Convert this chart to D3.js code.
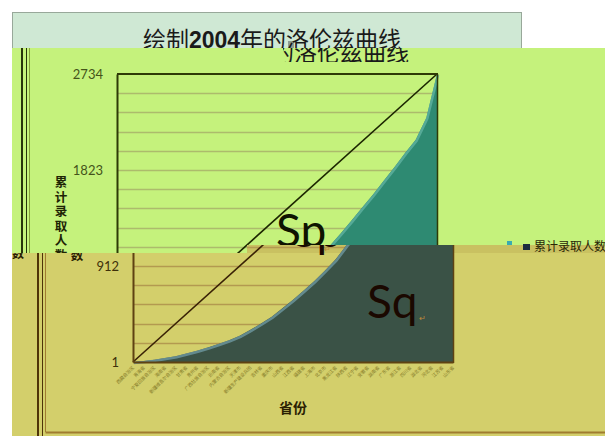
<!DOCTYPE html>
<html>
<head>
<meta charset="utf-8">
<script src="https://cdn.jsdelivr.net/npm/d3@7"></script>
<style>
  body { margin: 0; background: #fff; }
  svg { display: block; }
</style>
</head>
<body>
<svg width="605" height="436"></svg>
<script>
// data section

// provinces, sorted by admissions (labels are too small to read in the picture)
const provinces = ["西藏自治区", "青海省", "宁夏回族自治区", "海南省", "新疆维吾尔自治区", "甘肃省", "贵州省",
  "广西壮族自治区", "云南省", "内蒙古自治区", "天津市", "新疆生产建设兵团", "吉林省", "重庆市", "山西省",
  "江西省", "福建省", "上海市", "北京市", "黑龙江省", "陕西省", "辽宁省", "安徽省", "湖南省", "广东省",
  "浙江省", "四川省", "湖北省", "河北省", "江苏省", "山东省"];
// cumulative admitted students
const cumulative = [1, 10, 22, 38, 56, 82, 108, 138, 172, 207, 250, 306, 366, 430, 510, 592,
  680, 770, 870, 975, 1110, 1225, 1345, 1470, 1590, 1720, 1850, 1985, 2110, 2320, 2734];
// line of absolute equality: first and last point
const equality = [1, 2734];
const yTickValues = [1, 912, 1823, 2734];
const yAxisTitle = "累计录取人数";
const xAxisTitle = "省份";
const legendLabel = "累计录取人数";

const svg = d3.select("svg");

// scales, in the coordinates of the upper (green) strip
const x = d3.scalePoint().domain(provinces).range([117, 437]);
const y = d3.scaleLinear().domain([1, 2734]).range([362, 74]);

// five minor gridlines per labelled interval
const gridValues = d3.range(0, 16).map(i => 1 + i * (2734 - 1) / 15);

const palGreen = {
  bg: "#c5f27c", grid: "#adbb6c", axis: "#2e3a06", area: "#2e8a72", edge: "#5fb2a0",
  diag: "#1c2600", tick: "#44541a", label: "#1e2404", xtick: "#7c8a2c",
  frame: "#28340a", frameLight: "#86a23a", text: "#0e1400"
};
const palOlive = {
  bg: "#d3cf6b", grid: "#b39a50", axis: "#5e4212", area: "#3a5246", edge: "#6e98a0",
  diag: "#3a2206", tick: "#3e300a", label: "#2a1e02", xtick: "#857a28",
  frame: "#4e3408", frameLight: "#a07c30", text: "#1a0800"
};

function drawChart(g, pal) {
  // frame lines on the left
  g.append("line").attr("x1", 22).attr("x2", 22).attr("y1", 0).attr("y2", 436)
    .attr("stroke", pal.frame).attr("stroke-width", 2);
  g.append("line").attr("x1", 26.5).attr("x2", 26.5).attr("y1", 0).attr("y2", 436)
    .attr("stroke", pal.frame).attr("stroke-width", 1);
  g.append("line").attr("x1", 29.5).attr("x2", 29.5).attr("y1", 0).attr("y2", 432)
    .attr("stroke", pal.frameLight).attr("stroke-width", 1);
  g.append("line").attr("x1", 29.5).attr("x2", 620).attr("y1", 432.5).attr("y2", 432.5)
    .attr("stroke", pal.frameLight).attr("stroke-width", 2);

  // gridlines
  g.selectAll(".grid")
    .data(gridValues.slice(1, -1))
    .enter().append("line")
    .attr("class", "grid")
    .attr("x1", x.range()[0]).attr("x2", x.range()[1])
    .attr("y1", d => Math.round(y(d)) + 0.5).attr("y2", d => Math.round(y(d)) + 0.5)
    .attr("stroke", pal.grid).attr("stroke-width", 1.3);

  // the lorenz area
  const area = d3.area()
    .x((d, i) => x(provinces[i]))
    .y0(y(1))
    .y1(d => y(d));
  g.append("path").datum(cumulative)
    .attr("d", area)
    .attr("fill", pal.area);

  const line = d3.line()
    .x((d, i) => x(provinces[i]))
    .y(d => y(d));
  g.append("path").datum(cumulative)
    .attr("d", line)
    .attr("fill", "none")
    .attr("stroke", pal.edge)
    .attr("stroke-width", 2.5)
    .attr("transform", "translate(1,1)")
    .attr("opacity", 0.8);

  // equality line
  g.append("line")
    .attr("x1", x(provinces[0])).attr("y1", y(equality[0]))
    .attr("x2", x(provinces[provinces.length - 1])).attr("y2", y(equality[1]))
    .attr("stroke", pal.diag).attr("stroke-width", 1.6);

  // plot border: top and right
  g.append("line").attr("x1", 117).attr("x2", 438).attr("y1", 74).attr("y2", 74)
    .attr("stroke", pal.axis).attr("stroke-width", 2);
  g.append("line").attr("x1", 437.5).attr("x2", 437.5).attr("y1", 74).attr("y2", 363)
    .attr("stroke", pal.axis).attr("stroke-width", 1.5);

  // y axis
  const yAxis = d3.axisLeft(y).tickValues(yTickValues).tickFormat(d3.format("d"))
    .tickSize(0).tickPadding(14);
  const ya = g.append("g").attr("transform", "translate(117,0)").call(yAxis);
  ya.select(".domain").attr("stroke", pal.axis).attr("stroke-width", 2);
  ya.selectAll("text")
    .attr("fill", pal.tick)
    .style("font-family", "Lato, 'Liberation Sans', sans-serif")
    .style("font-size", "13px");

  // x axis
  const xAxis = d3.axisBottom(x).tickSize(0);
  const xa = g.append("g").attr("transform", "translate(0,362)").call(xAxis);
  xa.select(".domain").attr("stroke", pal.axis).attr("stroke-width", 2);
  xa.selectAll("text")
    .attr("x", 0).attr("y", 0).attr("dy", 0)
    .attr("transform", "translate(1,6) rotate(-45)")
    .attr("text-anchor", "end")
    .attr("fill", pal.xtick)
    .style("font-family", "'Noto Sans CJK SC', sans-serif")
    .style("font-size", "4.6px");

  // y axis title, one character per line
  const yt = g.append("text")
    .attr("fill", pal.label)
    .style("font-family", "'Noto Sans CJK SC', sans-serif")
    .style("font-weight", "bold")
    .style("font-size", "12.5px")
    .attr("text-anchor", "middle");
  yAxisTitle.split("").forEach((ch, i) => {
    yt.append("tspan").attr("x", 61).attr("y", 187 + i * 14.6).text(ch);
  });

  // x axis title
  g.append("text")
    .attr("x", 277).attr("y", 413)
    .attr("text-anchor", "middle")
    .attr("fill", pal.label)
    .style("font-family", "'Noto Sans CJK SC', sans-serif")
    .style("font-weight", "bold")
    .style("font-size", "14px")
    .text(xAxisTitle);

  // Sp and Sq labels
  const sFont = "Lato, 'Open Sans', sans-serif";
  g.append("text").attr("x", 276).attr("y", 247)
    .attr("fill", pal.text)
    .style("font-family", sFont).style("font-size", "46px")
    .text("Sp");
  g.append("text").attr("x", 351).attr("y", 318)
    .attr("fill", pal.text)
    .style("font-family", sFont).style("font-size", "46px")
    .text("Sq");
  g.append("text").attr("x", 403).attr("y", 321)
    .attr("fill", "#c08a3a")
    .style("font-size", "8px").text("↵");
}

// clip regions for the three strips of the picture
const defs = svg.append("defs");
defs.append("clipPath").attr("id", "clipA")
  .append("rect").attr("x", 12).attr("y", 12).attr("width", 510).attr("height", 36);
defs.append("clipPath").attr("id", "clipB")
  .append("polygon").attr("points", "12,48 605,48 605,245 247,245 247,253 12,253");
defs.append("clipPath").attr("id", "clipC")
  .append("polygon").attr("points", "12,253 247,253 247,245 605,245 605,436 12,436");
defs.append("clipPath").attr("id", "clipT")
  .append("rect").attr("x", 283).attr("y", 48).attr("width", 135).attr("height", 14);

// title strip
const titleG = svg.append("g").attr("clip-path", "url(#clipA)");
titleG.append("rect").attr("x", 12.5).attr("y", 12.5).attr("width", 509).attr("height", 40)
  .attr("fill", "#cfe8d4").attr("stroke", "#98a89a");
titleG.append("rect").attr("x", 288).attr("y", 41).attr("width", 6).attr("height", 7).attr("fill", "#8e9c92");

function addTitle(g, cx, baseline) {
  const t = g.append("text")
    .attr("x", cx).attr("y", baseline)
    .attr("text-anchor", "middle")
    .attr("fill", "#1a1a1a")
    .style("font-family", "'Noto Sans CJK SC', sans-serif")
    .style("font-size", "23px");
  t.append("tspan").text("绘制");
  t.append("tspan").style("font-weight", "bold").style("font-family", "'Liberation Sans', sans-serif").text("2004");
  t.append("tspan").text("年的洛伦兹曲线");
}
addTitle(titleG, 272, 48);

// green strip
const bandB = svg.append("g").attr("clip-path", "url(#clipB)");
bandB.append("rect").attr("x", 0).attr("y", 0).attr("width", 605).attr("height", 436).attr("fill", palGreen.bg);
drawChart(bandB.append("g"), palGreen);
const titleB = svg.append("g").attr("clip-path", "url(#clipT)");
addTitle(titleB, 280, 61);

// olive strip, shifted to the right
const bandC = svg.append("g").attr("clip-path", "url(#clipC)");
bandC.append("rect").attr("x", 0).attr("y", 0).attr("width", 605).attr("height", 436).attr("fill", palOlive.bg);
bandC.append("rect").attr("x", 247).attr("y", 245).attr("width", 358).attr("height", 8).attr("fill", "#c9c161");
drawChart(bandC.append("g").attr("transform", "translate(16,0)"), palOlive);
// wrapped fragment at the far left
bandC.append("text").attr("x", 12).attr("y", 258)
  .attr("fill", palOlive.label)
  .style("font-family", "'Noto Sans CJK SC', sans-serif")
  .style("font-weight", "bold")
  .style("font-size", "12px")
  .text("数");

// legend, straddling the seam between the green and olive strips
svg.append("rect").attr("x", 507).attr("y", 241).attr("width", 5).attr("height", 4).attr("fill", "#3aaab2");
svg.append("rect").attr("x", 523).attr("y", 244).attr("width", 7).attr("height", 6).attr("fill", "#1c2c40");
svg.append("text")
  .attr("x", 534).attr("y", 251)
  .attr("fill", "#2a2606")
  .style("font-family", "'Noto Sans CJK SC', sans-serif")
  .style("font-size", "12px")
  .text(legendLabel);
svg.append("text").attr("x", 324).attr("y", 252)
  .attr("fill", "#c08a3a")
  .style("font-size", "8px").text("↵");
</script>
</body>
</html>
